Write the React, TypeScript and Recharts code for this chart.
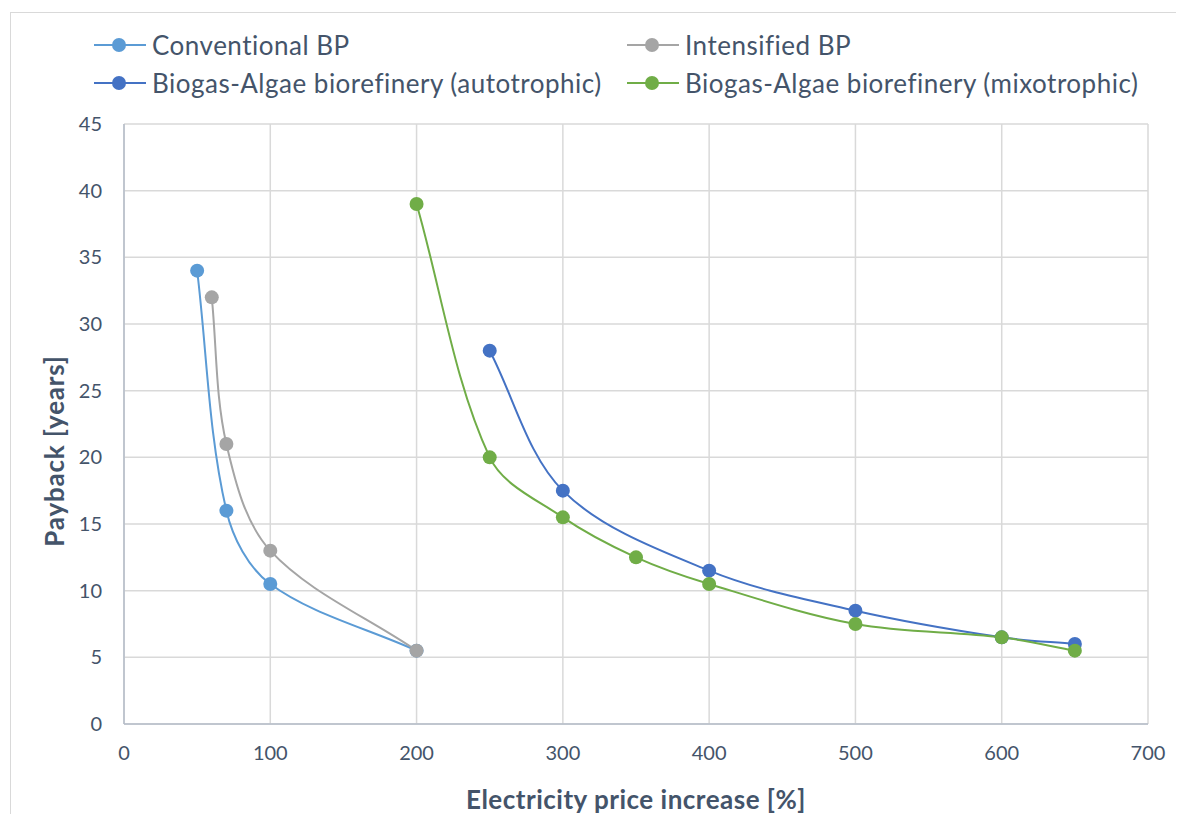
import React from "react";
import { LineChart, Line, XAxis, YAxis, CartesianGrid } from "recharts";

const conventionalX = [50, 70, 100, 200];
const conventionalY = [34, 16, 10.5, 5.5];
const intensifiedX = [60, 70, 100, 200];
const intensifiedY = [32, 21, 13, 5.5];
const autotrophicX = [250, 300, 400, 500, 600, 650];
const autotrophicY = [28, 17.5, 11.5, 8.5, 6.5, 6];
const mixotrophicX = [200, 250, 300, 350, 400, 500, 600, 650];
const mixotrophicY = [39, 20, 15.5, 12.5, 10.5, 7.5, 6.5, 5.5];
const xTicks = [0, 100, 200, 300, 400, 500, 600, 700];
const yTicks = [0, 5, 10, 15, 20, 25, 30, 35, 40, 45];

const series = [
  { name: "Conventional BP", xs: conventionalX, ys: conventionalY, color: "#5B9BD5" },
  { name: "Intensified BP", xs: intensifiedX, ys: intensifiedY, color: "#A5A5A5" },
  { name: "Biogas-Algae biorefinery (autotrophic)", xs: autotrophicX, ys: autotrophicY, color: "#4472C4" },
  { name: "Biogas-Algae biorefinery (mixotrophic)", xs: mixotrophicX, ys: mixotrophicY, color: "#70AD47" },
];

const toData = (xs: number[], ys: number[]) => xs.map((x, i) => ({ x, y: ys[i] }));

const FONT = "Lato, 'Open Sans', sans-serif";
const TEXT = "#44546A";

// Excel-like smoothed line (length-weighted Catmull-Rom as Bezier)
function excelCurve(context: any) {
  let px: number[] = [];
  let py: number[] = [];
  return {
    areaStart() {},
    areaEnd() {},
    lineStart() {
      px = [];
      py = [];
    },
    point(x: number, y: number) {
      px.push(+x);
      py.push(+y);
    },
    lineEnd() {
      const n = px.length;
      if (!n) return;
      const dist = (i: number, j: number) => Math.hypot(px[j] - px[i], py[j] - py[i]);
      context.moveTo(px[0], py[0]);
      for (let i = 0; i < n - 1; i++) {
        const a = i > 0 ? i - 1 : i;
        const d = i + 2 < n ? i + 2 : i + 1;
        const dPrev = i > 0 ? dist(i - 1, i) : 0;
        const dCur = dist(i, i + 1);
        const dNext = i + 2 < n ? dist(i + 1, i + 2) : 0;
        const r1 = dCur / (dPrev + dCur || 1) / 3;
        const r2 = dCur / (dCur + dNext || 1) / 3;
        const c1x = px[i] + (px[i + 1] - px[a]) * r1;
        const c1y = py[i] + (py[i + 1] - py[a]) * r1;
        const c2x = px[i + 1] - (px[d] - px[i]) * r2;
        const c2y = py[i + 1] - (py[d] - py[i]) * r2;
        context.bezierCurveTo(c1x, c1y, c2x, c2y, px[i + 1], py[i + 1]);
      }
    },
  };
}

function LegendItem({ name, color, left, top }: { name: string; color: string; left: number; top: number }) {
  return (
    <div style={{ position: "absolute", left, top, display: "flex", alignItems: "center", height: 30 }}>
      <svg width={52} height={20} style={{ marginRight: 6 }}>
        <line x1={0} y1={10} x2={52} y2={10} stroke={color} strokeWidth={2} />
        <circle cx={25} cy={10} r={7} fill={color} />
      </svg>
      <span style={{ fontFamily: FONT, fontSize: 26, letterSpacing: 0.5, color: TEXT, whiteSpace: "nowrap" }}>
        {name}
      </span>
    </div>
  );
}

const YTitle = (props: any) => {
  const vb = props.viewBox || {};
  const x = vb.x + 30;
  const y = vb.y + vb.height / 2 + 27;
  return (
    <text
      x={x}
      y={y}
      transform={`rotate(-90, ${x}, ${y})`}
      textAnchor="middle"
      dominantBaseline="central"
      fill={TEXT}
      fontSize={26}
      fontWeight={700}
      fontFamily={FONT}
      letterSpacing={0.8}
    >
      Payback [years]
    </text>
  );
};

export default function App() {
  return (
    <div style={{ position: "relative", width: 1176, height: 806, overflow: "hidden", background: "#fff" }}>
      <div
        style={{
          position: "absolute",
          left: 2,
          top: 4,
          width: 1300,
          height: 1000,
          border: "1px solid #D9D9D9",
          boxSizing: "border-box",
        }}
      />
      <LegendItem name={series[0].name} color={series[0].color} left={86} top={22} />
      <LegendItem name={series[2].name} color={series[2].color} left={86} top={60} />
      <LegendItem name={series[1].name} color={series[1].color} left={619} top={22} />
      <LegendItem name={series[3].name} color={series[3].color} left={619} top={60} />
      <div style={{ position: "absolute", left: 0, top: 0 }}>
        <LineChart width={1176} height={806} margin={{ top: 116, right: 36, bottom: 4, left: 16 }}>
          <CartesianGrid stroke="#D9D9D9" strokeWidth={1.5} />
          <XAxis
            type="number"
            dataKey="x"
            domain={[0, 700]}
            ticks={xTicks}
            allowDuplicatedCategory={false}
            tickLine={false}
            tickSize={0}
            tickMargin={22}
            height={86}
            axisLine={{ stroke: "#B4BCC8", strokeWidth: 1.5 }}
            tick={{ fill: TEXT, fontSize: 20, fontFamily: FONT }}
            label={{
              value: "Electricity price increase [%]",
              position: "insideBottom",
              offset: 1,
              style: { fill: TEXT, fontSize: 26, fontWeight: 700, fontFamily: FONT, letterSpacing: 0.5 },
            }}
          />
          <YAxis
            type="number"
            dataKey="y"
            domain={[0, 45]}
            ticks={yTicks}
            tickLine={false}
            tickSize={0}
            tickMargin={22}
            width={100}
            axisLine={{ stroke: "#B4BCC8", strokeWidth: 1.5 }}
            tick={{ fill: TEXT, fontSize: 20, fontFamily: FONT }}
            label={<YTitle />}
          />
          {series.map((s) => (
            <Line
              key={s.name}
              name={s.name}
              data={toData(s.xs, s.ys)}
              dataKey="y"
              type={excelCurve as any}
              stroke={s.color}
              strokeWidth={2}
              dot={{ r: 7, fill: s.color, stroke: s.color, strokeWidth: 0 }}
              activeDot={false}
              isAnimationActive={false}
            />
          ))}
        </LineChart>
      </div>
    </div>
  );
}
